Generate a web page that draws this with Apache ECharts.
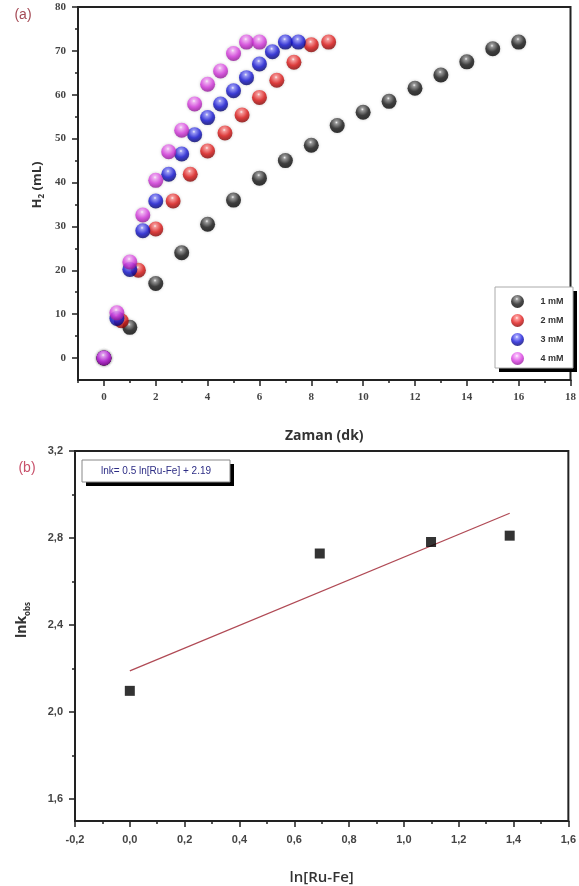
<!DOCTYPE html>
<html><head><meta charset="utf-8">
<script src="https://cdn.jsdelivr.net/npm/echarts@6/dist/echarts.min.js"></script>
<style>html,body{margin:0;padding:0;background:#fff}#c{width:579px;height:886px}</style>
</head><body><div id="c"></div>
<script>
// ---- Panel (a): H2 volume vs time ----
const seriesNames = ['1 mM', '2 mM', '3 mM', '4 mM'];
const time1 = [0,1,2,3,4,5,6,7,8,9,10,11,12,13,14,15,16];
const h2_1  = [0,7,17,24,30.5,36,41,45,48.5,53,56,58.5,61.5,64.5,67.5,70.5,72];
const time2 = [0,0.67,1.33,2,2.67,3.33,4,4.67,5.33,6,6.67,7.33,8,8.67];
const h2_2  = [0,8.5,20,29.4,35.8,41.9,47.2,51.3,55.4,59.4,63.3,67.4,71.4,72];
const time3 = [0,0.5,1,1.5,2,2.5,3,3.5,4,4.5,5,5.5,6,6.5,7,7.5];
const h2_3  = [0,9,20.2,29,35.8,41.9,46.5,50.9,54.8,57.9,60.9,63.9,67,69.8,72,72];
const time4 = [0,0.5,1,1.5,2,2.5,3,3.5,4,4.5,5,5.5,6];
const h2_4  = [0,10.3,21.9,32.6,40.5,47,51.9,57.9,62.4,65.4,69.4,72,72];
const aMajorX = [0,2,4,6,8,10,12,14,16,18];
const aMinorX = [-1,1,3,5,7,9,11,13,15,17];
const aMajorY = [0,10,20,30,40,50,60,70,80];
const aMinorY = [5,15,25,35,45,55,65,75];

// ---- Panel (b): ln k_obs vs ln[Ru-Fe] ----
const lnConc = [0, 0.693, 1.099, 1.386];
const lnK    = [2.098, 2.729, 2.782, 2.811];
const fitX   = [0, 1.386];
const fitY   = [2.19, 2.914];
const bMajorY = [1.6, 2.0, 2.4, 2.8, 3.2];
const bMinorY = [1.8, 2.2, 2.6, 3.0];

const chart = echarts.init(document.getElementById('c'), null, {renderer: 'canvas'});

function sphere(light, base, dark) {
  return new echarts.graphic.RadialGradient(0.45, 0.3, 0.75, [
    {offset: 0, color: '#ffffff'},
    {offset: 0.14, color: light},
    {offset: 0.55, color: base},
    {offset: 1, color: dark}
  ]);
}
const sphereColors = [
  sphere('#8a8a8a', '#1a1a1a', '#000000'),
  sphere('#ff8a8a', '#e01818', '#760000'),
  sphere('#8c8cff', '#1616d6', '#00005a'),
  sphere('#f7a8fa', '#d83ae0', '#86108c')
];
const pairs = (xs, ys) => xs.map((x, i) => [x, ys[i]]);
const aData = [pairs(time1, h2_1), pairs(time2, h2_2), pairs(time3, h2_3), pairs(time4, h2_4)];

const axisCol = '#222';
const tickLbl = {fontSize: 11, fontWeight: 'bold', color: '#444'};
const comma = v => (Math.abs(v) < 1e-9 ? 0 : v).toFixed(1).replace('.', ',');
const minorAxis = (grid, min, max, pos, vals) => ({
  gridIndex: grid, type: 'value', min: min, max: max, position: pos,
  axisLine: {show: false, onZero: false},
  axisTick: {show: true, customValues: vals, length: 3, lineStyle: {color: axisCol, width: 1.5}},
  axisLabel: {show: false}, splitLine: {show: false}
});

const option = {
  animation: false,
  backgroundColor: '#fff',
  grid: [
    {left: 78, top: 7, right: 2, bottom: 506, show: true, borderColor: axisCol, borderWidth: 2, backgroundColor: 'transparent'},
    {left: 75, top: 451, right: 4, bottom: 63, show: true, borderColor: axisCol, borderWidth: 2, backgroundColor: 'transparent'}
  ],
  legend: {
    data: seriesNames, orient: 'vertical', left: 504, top: 288,
    itemWidth: 30, itemHeight: 13, itemGap: 6, icon: 'circle',
    padding: [7, 8, 7, 7],
    backgroundColor: 'transparent', borderWidth: 0,
    textStyle: {fontSize: 9, fontWeight: 'bold', color: '#333', fontFamily: 'Liberation Sans', padding: [0, 0, 0, 3]}
  },
  xAxis: [
    {gridIndex: 0, type: 'value', min: -1, max: 18, position: 'bottom',
     axisLine: {onZero: false, lineStyle: {color: axisCol, width: 2}},
     axisTick: {show: true, customValues: aMajorX, length: 6, lineStyle: {color: axisCol, width: 1.5}},
     axisLabel: Object.assign({customValues: aMajorX, margin: 12, fontFamily: 'Liberation Serif'}, tickLbl),
     splitLine: {show: false},
     name: 'Zaman (dk)', nameLocation: 'middle', nameGap: 49,
     nameTextStyle: {fontSize: 14, fontWeight: 'bold', color: '#333', fontFamily: 'Open Sans'}},
    minorAxis(0, -1, 18, 'bottom', aMinorX),
    {gridIndex: 1, type: 'value', min: -0.2, max: 1.6, interval: 0.2, position: 'bottom',
     axisLine: {onZero: false, lineStyle: {color: axisCol, width: 2}},
     axisTick: {show: true, length: 6, lineStyle: {color: axisCol, width: 1.5}},
     minorTick: {show: true, splitNumber: 2, length: 3, lineStyle: {color: axisCol, width: 1.5}},
     axisLabel: Object.assign({margin: 13, formatter: comma, fontFamily: 'Liberation Sans'}, tickLbl),
     splitLine: {show: false},
     name: 'ln[Ru-Fe]', nameLocation: 'middle', nameGap: 49,
     nameTextStyle: {fontSize: 15, fontWeight: 600, color: '#333', fontFamily: 'Open Sans'}}
  ],
  yAxis: [
    {gridIndex: 0, type: 'value', min: -5, max: 80, position: 'left',
     axisLine: {onZero: false, lineStyle: {color: axisCol, width: 2}},
     axisTick: {show: true, customValues: aMajorY, length: 6, lineStyle: {color: axisCol, width: 1.5}},
     axisLabel: Object.assign({customValues: aMajorY, margin: 12, fontFamily: 'Liberation Serif'}, tickLbl),
     splitLine: {show: false}},
    minorAxis(0, -5, 80, 'left', aMinorY),
    {gridIndex: 1, type: 'value', min: 1.5, max: 3.2, position: 'left',
     axisLine: {onZero: false, lineStyle: {color: axisCol, width: 2}},
     axisTick: {show: true, customValues: bMajorY, length: 6, lineStyle: {color: axisCol, width: 1.5}},
     axisLabel: Object.assign({customValues: bMajorY, margin: 12, formatter: comma, fontFamily: 'Liberation Sans'}, tickLbl),
     splitLine: {show: false}},
    minorAxis(1, 1.5, 3.2, 'left', bMinorY)
  ],
  series: seriesNames.map((n, i) => ({
    name: n, type: 'scatter', xAxisIndex: 0, yAxisIndex: 0,
    symbol: 'circle', symbolSize: 15, data: aData[i],
    itemStyle: {color: sphereColors[i], shadowBlur: 3, shadowColor: 'rgba(0,0,0,0.25)'}
  })).concat([
    {name: 'fit', type: 'line', xAxisIndex: 2, yAxisIndex: 2, data: pairs(fitX, fitY),
     showSymbol: false, lineStyle: {color: '#b04a55', width: 1.3}, z: 2},
    {name: 'lnk', type: 'scatter', xAxisIndex: 2, yAxisIndex: 2, data: pairs(lnConc, lnK),
     symbol: 'rect', symbolSize: 10, itemStyle: {color: '#000'}, z: 3}
  ]),
  graphic: [
    {type: 'text', x: 23, y: 15, style: {text: '(a)', fontSize: 14, fill: '#a54a55', fontFamily: 'Liberation Sans', align: 'center', verticalAlign: 'middle'}},
    {type: 'text', x: 27, y: 468, style: {text: '(b)', fontSize: 14, fill: '#c8506a', fontFamily: 'Liberation Sans', align: 'center', verticalAlign: 'middle'}},
    {type: 'text', x: 37, y: 185, rotation: Math.PI / 2,
     style: {text: '{b|H}{s|2}{b| (mL)}', align: 'center', verticalAlign: 'middle',
       rich: {b: {fontSize: 13, fontWeight: 'bold', fill: '#333', fontFamily: 'Open Sans', lineHeight: 18, verticalAlign: 'middle'},
              s: {fontSize: 8, fontWeight: 'bold', fill: '#333', fontFamily: 'Open Sans', lineHeight: 18, verticalAlign: 'bottom'}}}},
    {type: 'text', x: 22, y: 620, rotation: Math.PI / 2,
     style: {text: '{b|lnk}{s|obs}', align: 'center', verticalAlign: 'middle',
       rich: {b: {fontSize: 14, fontWeight: 'bold', fill: '#333', fontFamily: 'Open Sans', lineHeight: 20, verticalAlign: 'middle'},
              s: {fontSize: 8, fontWeight: 'bold', fill: '#333', fontFamily: 'Open Sans', lineHeight: 20, verticalAlign: 'bottom'}}}},
    // legend frame with hard shadow
    {type: 'rect', shape: {x: 499, y: 291, width: 78, height: 81}, style: {fill: '#000'}, z: 1},
    {type: 'rect', shape: {x: 495, y: 287, width: 78, height: 81}, style: {fill: '#fff', stroke: '#aaa', lineWidth: 1}, z: 1},
    // equation box with hard shadow
    {type: 'rect', shape: {x: 86, y: 464, width: 148, height: 22}, style: {fill: '#000'}, z: 10},
    {type: 'rect', shape: {x: 82, y: 460, width: 148, height: 22}, style: {fill: '#fff', stroke: '#888', lineWidth: 1}, z: 11},
    {type: 'text', x: 156, y: 471, z: 12, style: {text: 'lnk= 0.5 ln[Ru-Fe] + 2.19', fontSize: 10, fill: '#2d2d85', fontFamily: 'Liberation Sans', align: 'center', verticalAlign: 'middle'}}
  ]
};
chart.setOption(option);
</script>
</body></html>
